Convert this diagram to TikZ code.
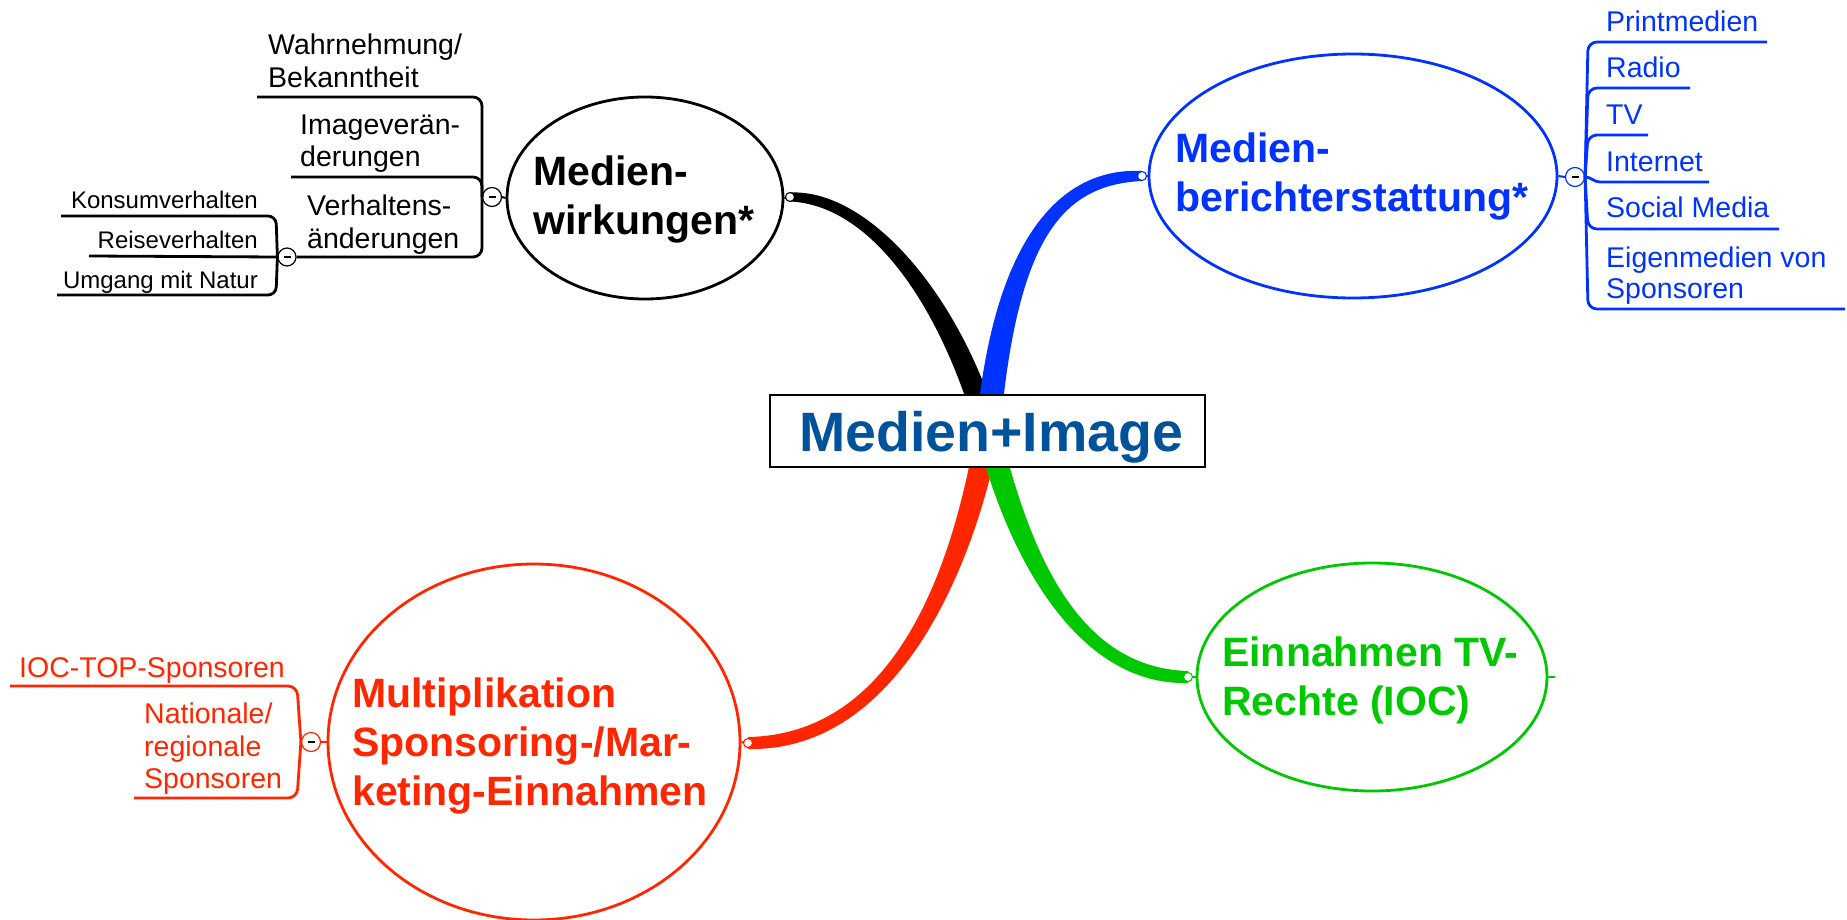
\documentclass[tikz,border=0pt]{standalone}
\usepackage{fontspec}
\setmainfont{Liberation Sans}
\usetikzlibrary{shapes.geometric}
\definecolor{cblue}{RGB}{0,51,255}
\definecolor{cred}{RGB}{255,38,0}
\definecolor{cgreen}{RGB}{0,200,0}
\definecolor{ctitle}{RGB}{0,82,155}
\begin{document}
\begin{tikzpicture}[x=1pt,y=-1pt,
  bubble/.style={ellipse, draw, line width=2.8pt, fill=white, inner sep=0pt},
  knob/.style={circle, draw, fill=white, line width=1.1pt, minimum size=9pt, inner sep=0pt},
  foldmark/.style={circle, draw, fill=white, line width=1.2pt, minimum size=19pt, inner sep=0pt},
  leaf/.style={anchor=base west, inner sep=0pt, font=\fontsize{28.5}{32.5}\selectfont},
  subleaf/.style={anchor=base east, inner sep=0pt, font=\fontsize{24}{28}\selectfont},
  topic/.style={anchor=base west, inner sep=0pt, font=\fontsize{41}{49}\selectfont\bfseries},
  twig/.style={line width=2.8pt, rounded corners=9pt},
  stub/.style={line width=2pt},
]
\useasboundingbox (0,0) rectangle (1847,920);

% hub and dots positions
\coordinate (hub) at (988,431);
\coordinate (pB) at (790,197);
\coordinate (pBl) at (1142,176);
\coordinate (pR) at (748,743);
\coordinate (pG) at (1188,677);

% tapered main branches
\fill[black] ([shift={(0,4.5)}]pB) .. controls (870,205) and (939.4,303.1) .. ([shift={(-11.0,3.2)}]hub)
  -- ([shift={(11.0,-3.2)}]hub) .. controls (960.6,296.9) and (870,189) .. ([shift={(0,-4.5)}]pB) -- cycle;
\fill[cblue] ([shift={(0,-5)}]pBl) .. controls (1060,167) and (993,238.9) .. ([shift={(-11.95,-1.06)}]hub)
  -- ([shift={(11.95,1.06)}]hub) .. controls (1017,241.1) and (1060,185) .. ([shift={(0,5)}]pBl) -- cycle;
\fill[cred] ([shift={(0,6)}]pR) .. controls (900,752) and (975.8,561.9) .. ([shift={(11.8,2.1)}]hub)
  -- ([shift={(-11.8,-2.1)}]hub) .. controls (954.2,558.1) and (900,734) .. ([shift={(0,-6)}]pR) -- cycle;
\fill[cgreen] ([shift={(0,-6)}]pG) .. controls (1080,668) and (1030.7,557.4) .. ([shift={(11.65,-2.89)}]hub)
  -- ([shift={(-11.65,2.89)}]hub) .. controls (1009.3,562.6) and (1080,686) .. ([shift={(0,6)}]pG) -- cycle;

% topic ellipses
\node[bubble, minimum width=276pt, minimum height=202pt] (elB) at (645,198) {};
\node[bubble, draw=cblue, minimum width=408pt, minimum height=244pt] (elBl) at (1353,176) {};
\node[bubble, draw=cred, minimum width=412pt, minimum height=356pt] (elR) at (534,742) {};
\node[bubble, draw=cgreen, minimum width=350pt, minimum height=228pt] (elG) at (1372,677) {};

% short links ellipse -> knob / fold marks
\draw[stub] (elB.east) -- (pB);
\draw[stub, cblue] (elBl.west) -- (pBl);
\draw[stub, cred] (elR.east) -- (pR);
\draw[stub, cgreen] (elG.west) -- (pG);
\draw[stub, cgreen] (elG.east) -- ++(7,0);

\node[foldmark] (cb) at (492,197) {\rule{7pt}{1.5pt}};
\node[foldmark, minimum size=18pt] (cbs) at (287,257) {\rule{7pt}{1.5pt}};
\node[foldmark, draw=cblue] (cbl) at (1575,177) {\rule{7pt}{1.5pt}};
\node[foldmark, draw=cred] (cr) at (311,742) {\rule{7pt}{1.5pt}};
\draw[stub] (elB.west) -- (cb.east);
\draw[stub, cblue] (elBl.east) -- (cbl.west);
\draw[stub, cred] (elR.west) -- (cr.east);

\node[knob] (kB) at (pB) {};
\node[knob, draw=cblue] (kBl) at (pBl) {};
\node[knob, draw=cred] (kR) at (pR) {};
\node[knob, draw=cgreen] (kG) at (pG) {};

% black twigs
\draw[twig] (257,97) -- (482,97) -- (cb.west);
\draw[twig] (291,177) -- (482,177) -- (cb.west);
\draw[twig] (cbs.east) -- (482,257) -- (cb.west);
\draw[twig, rounded corners=8pt] (61,216) -- (276,216) -- (cbs.west);
\draw[twig] (89,256) -- (cbs.west);
\draw[twig, rounded corners=8pt] (57,295) -- (276,295) -- (cbs.west);

% blue twigs
\begin{scope}[cblue]
\draw[twig] (cbl.east) -- (1588,42) -- (1767,42);
\draw[twig] (cbl.east) -- (1588,88) -- (1690,88);
\draw[twig] (cbl.east) -- (1588,135) -- (1648,135);
\draw[line width=2.8pt] (cbl.east) to[out=0,in=180] (1600,182) -- (1709,182);
\draw[twig] (cbl.east) -- (1588,229) -- (1779,229);
\draw[twig] (cbl.east) -- (1588,309) -- (1845,309);
\end{scope}

% red twigs
\begin{scope}[cred]
\draw[twig] (10,686) -- (297,686) -- (cr.west);
\draw[twig] (134,798) -- (297,798) -- (cr.west);
\end{scope}

% central box
\node[draw, line width=1.8pt, fill=white, minimum width=435pt, minimum height=72pt, inner sep=0pt] (hubbox) at (987.5,431) {};
\node[anchor=base west, inner sep=0pt, text=ctitle, font=\fontsize{55.5}{60}\selectfont\bfseries] (title) at (799,451) {Medien+Image};

% black topic texts
\node[topic] (tB1) at (533,186) {Medien-};
\node[topic] (tB2) at (533,235) {wirkungen*};
\node[leaf] (w1) at (268,55) {Wahrnehmung/};
\node[leaf] (w2) at (268,88) {Bekanntheit};
\node[leaf] (w3) at (300,135) {Imageverän-};
\node[leaf] (w4) at (300,167) {derungen};
\node[leaf] (w5) at (307,215) {Verhaltens-};
\node[leaf] (w6) at (307,248) {änderungen};
\node[subleaf] (s1) at (258,209) {Konsumverhalten};
\node[subleaf] (s2) at (258,248) {Reiseverhalten};
\node[subleaf] (s3) at (258,288) {Umgang mit Natur};

% blue texts
\node[topic, text=cblue] (tBl1) at (1175,163) {Medien-};
\node[topic, text=cblue] (tBl2) at (1175,212) {berichterstattung*};
\node[leaf, text=cblue] (b1) at (1606,32) {Printmedien};
\node[leaf, text=cblue] (b2) at (1606,78) {Radio};
\node[leaf, text=cblue] (b3) at (1606,125) {TV};
\node[leaf, text=cblue] (b4) at (1606,172) {Internet};
\node[leaf, text=cblue] (b5) at (1606,218) {Social Media};
\node[leaf, text=cblue] (b6) at (1606,267) {Eigenmedien von};
\node[leaf, text=cblue] (b7) at (1606,298) {Sponsoren};

% red texts
\node[topic, text=cred] (tR1) at (352,707) {Multiplikation};
\node[topic, text=cred] (tR2) at (352,756) {Sponsoring-/Mar-};
\node[topic, text=cred] (tR3) at (352,805) {keting-Einnahmen};
\node[leaf, text=cred] (r1) at (19,677) {IOC-TOP-Sponsoren};
\node[leaf, text=cred] (r2) at (144,723) {Nationale/};
\node[leaf, text=cred] (r3) at (144,756) {regionale};
\node[leaf, text=cred] (r4) at (144,788) {Sponsoren};

% green texts
\node[topic, text=cgreen] (tG1) at (1222,666) {Einnahmen TV-};
\node[topic, text=cgreen] (tG2) at (1222,715) {Rechte (IOC)};
\end{tikzpicture}
\end{document}
